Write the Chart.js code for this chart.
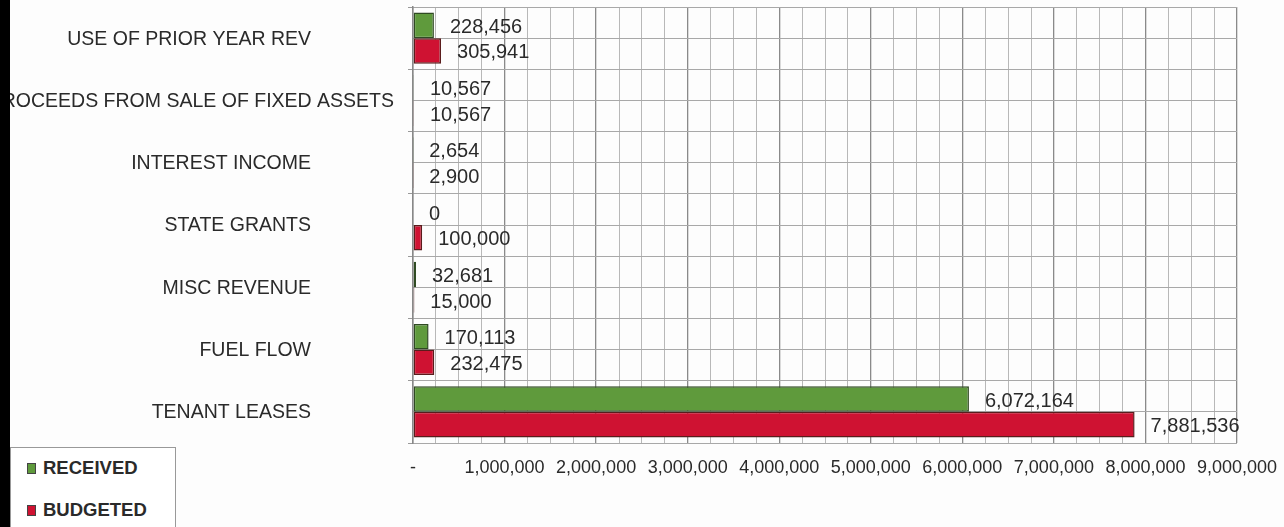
<!DOCTYPE html>
<html>
<head>
<meta charset="utf-8">
<script src="https://cdn.jsdelivr.net/npm/chart.js@4.4.1/dist/chart.umd.min.js"></script>
<style>
  body { margin: 0; background: #fff; }
  #wrap { position: relative; width: 1284px; height: 527px; overflow: hidden; background: #fdfdfd; }
  #strip { position: absolute; left: 0; top: 0; width: 10px; height: 527px; background: #000; z-index: 2; }
  #myChart { position: absolute; left: 0; top: 0; }
  #legend {
    position: absolute; left: 10px; top: 447px; width: 164px; height: 100px;
    border: 1px solid #999; background: #fff;
    font-family: "Liberation Sans", Arial, sans-serif; font-weight: bold; font-size: 18.5px; color: #2a2a2a;
  }
  #legend .item { position: absolute; left: 16px; height: 20px; line-height: 20px; }
  #legend .box { display: inline-block; width: 7px; height: 9px; border: 1px solid #444; margin-right: 7px; vertical-align: 0px; }
</style>
</head>
<body>
<div id="wrap">
  <div id="strip"></div>
  <canvas id="myChart" width="1284" height="527"></canvas>
  <div id="legend"></div>
</div>
<script>
// data
const categories = ['USE OF PRIOR YEAR REV', 'PROCEEDS FROM SALE OF FIXED ASSETS', 'INTEREST INCOME',
    'STATE GRANTS', 'MISC REVENUE', 'FUEL FLOW', 'TENANT LEASES'];
const received = [228456, 10567, 2654, 0, 32681, 170113, 6072164];
const budgeted = [305941, 10567, 2900, 100000, 15000, 232475, 7881536];
const seriesNames = ['RECEIVED', 'BUDGETED'];
const seriesColors = ['#5f9a3c', '#cf1232'];
const seriesBorders = ['#2f4a22', '#5a1c1c'];
const xTicks = [0, 1000000, 2000000, 3000000, 4000000, 5000000, 6000000, 7000000, 8000000, 9000000];

const fmt = (v) => v.toLocaleString('en-US');

// value labels at the end of each bar
const valueLabels = {
    id: 'valueLabels',
    afterDatasetsDraw(chart) {
        const ctx = chart.ctx;
        ctx.save();
        ctx.font = '20px "Liberation Sans", Arial, sans-serif';
        ctx.fillStyle = '#2a2a2a';
        ctx.textAlign = 'left';
        ctx.textBaseline = 'middle';
        chart.data.datasets.forEach((ds, i) => {
            chart.getDatasetMeta(i).data.forEach((bar, j) => {
                ctx.fillText(fmt(ds.data[j]), bar.x + 16, bar.y + 2);
            });
        });
        ctx.restore();
    }
};

// category names on the left
const catLabels = {
    id: 'catLabels',
    afterDraw(chart) {
        const ctx = chart.ctx;
        const y = chart.scales.y;
        ctx.save();
        ctx.font = '19.5px "Liberation Sans", Arial, sans-serif';
        ctx.fillStyle = '#2a2a2a';
        ctx.textAlign = 'right';
        ctx.textBaseline = 'middle';
        categories.forEach((c, i) => {
            const w = ctx.measureText(c).width;
            const right = w > 300 ? 394 : 311;
            ctx.fillText(c, right, y.getPixelForValue(i) + 1);
        });
        ctx.restore();
    }
};

Chart.defaults.font.family = '"Liberation Sans", Arial, sans-serif';

var ctx = document.getElementById('myChart').getContext('2d');
var myChart = new Chart(ctx, {
    type: 'bar',
    data: {
        labels: categories,
        datasets: [{
            label: seriesNames[0],
            data: received,
            backgroundColor: seriesColors[0],
            borderColor: seriesBorders[0],
            borderWidth: 1.5,
            borderSkipped: false
        },
        {
            label: seriesNames[1],
            data: budgeted,
            backgroundColor: seriesColors[1],
            borderColor: seriesBorders[1],
            borderWidth: 1.5,
            borderSkipped: false
        }]
    },
    options: {
        indexAxis: 'y',
        responsive: false,
        animation: false,
        layout: { padding: { left: 0, top: 7, right: 47, bottom: 0 } },
        categoryPercentage: 0.82,
        barPercentage: 1.0,
        plugins: {
            legend: { display: false },
            tooltip: { enabled: false }
        },
        scales: {
            x: {
                min: 0,
                max: 9000000,
                afterBuildTicks: (scale) => {
                    const t = [];
                    for (let v = 0; v <= 9000000; v += 250000) t.push({ value: v });
                    scale.ticks = t;
                },
                afterFit: (scale) => {
                    scale.height = 84;
                    scale.paddingLeft = 0;
                    scale.paddingRight = 0;
                },
                ticks: {
                    autoSkip: false,
                    maxRotation: 0,
                    padding: 14,
                    color: '#2a2a2a',
                    font: { size: 18 },
                    callback: (v) => v === 0 ? '-' : (xTicks.includes(v) ? fmt(v) : '')
                },
                grid: {
                    drawTicks: false,
                    color: (c) => (c.tick && c.tick.value % 1000000 === 0) ? '#8a8a8a' : '#b8b8b8',
                    lineWidth: (c) => (c.tick && c.tick.value % 1000000 === 0) ? 1.3 : 1
                },
                border: { display: false }
            },
            y: {
                afterFit: (scale) => { scale.width = 413; },
                ticks: { display: false },
                grid: { color: '#999', tickLength: 5, offset: true },
                border: { color: '#888', width: 1.5 }
            },
            y2: {
                type: 'category',
                position: 'left',
                labels: ['', '', '', '', '', '', '', '', '', '', '', '', '', ''],
                offset: true,
                afterFit: (scale) => { scale.width = 0; },
                ticks: { display: false },
                grid: { color: '#a8a8a8', offset: true, drawTicks: false },
                border: { display: false }
            }
        }
    },
    plugins: [valueLabels, catLabels]
});

// legend box
const legend = document.getElementById('legend');
seriesNames.forEach((n, i) => {
    const d = document.createElement('div');
    d.className = 'item';
    d.style.top = (i === 0 ? 10 : 52) + 'px';
    d.innerHTML = `<span class="box" style="background:${seriesColors[i]}"></span>${n}`;
    legend.appendChild(d);
});
</script>
</body>
</html>
